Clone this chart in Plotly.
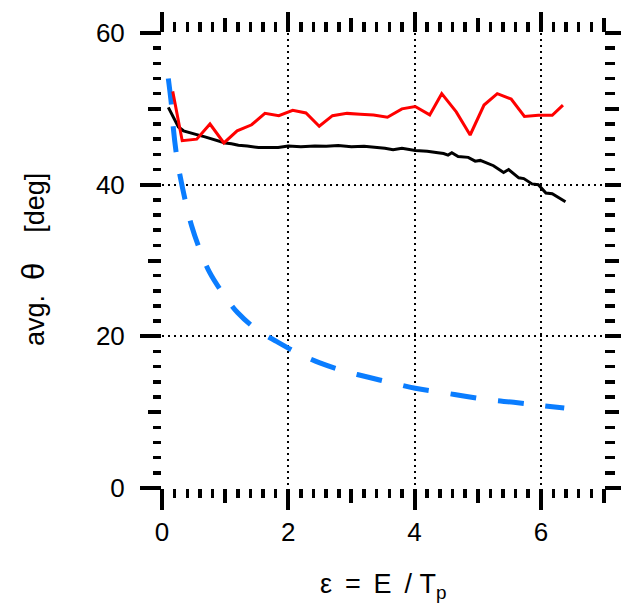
import plotly.graph_objects as go

# ---- data ----
red_x = [0.17, 0.32, 0.55, 0.76, 0.98, 1.19, 1.42, 1.63, 1.85, 2.07, 2.28, 2.49, 2.70, 2.93, 3.14,
         3.35, 3.57, 3.80, 4.01, 4.24, 4.43, 4.66, 4.88, 5.10, 5.31, 5.53, 5.74, 5.96, 6.18, 6.35]
red_y = [52.3, 45.8, 46.0, 48.0, 45.5, 47.1, 47.9, 49.4, 49.1, 49.8, 49.45, 47.7, 49.1, 49.4, 49.3,
         49.2, 48.9, 50.0, 50.3, 49.2, 52.0, 49.6, 46.55, 50.5, 52.0, 51.3, 49.0, 49.15, 49.15, 50.5]

black_x = [0.10, 0.18, 0.26, 0.34, 0.45, 0.55, 0.68, 0.80, 0.90, 1.00, 1.10, 1.21, 1.35, 1.53, 1.70,
           1.84, 2.00, 2.20, 2.42, 2.60, 2.79, 3.00, 3.20, 3.40, 3.53, 3.66, 3.80, 4.01, 4.20, 4.37,
           4.46, 4.53, 4.59, 4.69, 4.85, 4.96, 5.04, 5.25, 5.41, 5.49, 5.65, 5.73, 5.86, 5.96, 6.08,
           6.18, 6.39]
black_y = [50.2, 49.0, 47.6, 47.1, 46.8, 46.6, 46.3, 46.0, 45.8, 45.5, 45.4, 45.2, 45.1, 44.9, 44.9,
           44.9, 45.1, 45.0, 45.1, 45.05, 45.15, 45.0, 45.05, 44.9, 44.8, 44.6, 44.8, 44.5, 44.4, 44.2,
           44.1, 43.9, 44.2, 43.7, 43.6, 43.1, 43.2, 42.5, 41.6, 42.0, 40.9, 40.8, 40.1, 40.0, 38.9,
           38.8, 37.75]

blue_x = [0.10, 0.15, 0.18, 0.23, 0.29, 0.38, 0.47, 0.60, 0.75, 0.97, 1.20, 1.50, 1.82, 2.16, 2.50,
          2.90, 3.27, 3.67, 4.01, 4.43, 4.80, 5.20, 5.57, 5.99, 6.37]
blue_y = [54.0, 50.5, 47.4, 43.9, 41.0, 37.5, 34.55, 31.4, 28.5, 25.6, 23.1, 20.9, 19.3, 17.75, 16.5,
          15.4, 14.6, 13.8, 13.15, 12.6, 12.1, 11.6, 11.3, 10.9, 10.55]

x_major = [0, 2, 4, 6]
x_mid = [1, 3, 5, 7]
y_major = [0, 20, 40, 60]
y_mid = [10, 30, 50]
x_labels = ["0", "2", "4", "6"]
y_labels = ["0", "20", "40", "60"]
x_title = "ε\u00a0\u2009=\u00a0\u2009E\u00a0\u2009/\u00a0T<sub>p</sub>"
y_title = "avg.\u00a0 <span style='font-size:31px'>θ</span>\u00a0\u00a0 \u00a0[deg]"

XR = [0, 7]
YR = [0, 60]
FONT = "Liberation Sans, Arial, Helvetica, sans-serif"

W, H = 637, 603
ML, MR, MT, MB = 162, 33, 33, 115
PW, PH = W - ML - MR, H - MT - MB

fig = go.Figure()
fig.add_trace(go.Scatter(x=blue_x, y=blue_y, mode="lines",
                         line=dict(color="#0a7dff", width=5, dash="26px,22px", shape="spline"),
                         hoverinfo="skip"))
fig.add_trace(go.Scatter(x=black_x, y=black_y, mode="lines",
                         line=dict(color="black", width=3), hoverinfo="skip"))
fig.add_trace(go.Scatter(x=red_x, y=red_y, mode="lines",
                         line=dict(color="#ff0000", width=3), hoverinfo="skip"))
# invisible anchors for overlay axes
for xa, ya in [("x2", "y2"), ("x3", "y3"), ("x4", "y4")]:
    fig.add_trace(go.Scatter(x=[None], y=[None], xaxis=xa, yaxis=ya, showlegend=False,
                             hoverinfo="skip"))

grid = dict(showgrid=True, gridcolor="black", gridwidth=2, griddash="2px,4px")
common = dict(showline=False, zeroline=False, ticks="outside", tickcolor="black", tickwidth=4,
              fixedrange=True, automargin=False)


def minor(dt, ln):
    return dict(dtick=dt, tick0=0, ticklen=ln, tickwidth=3.5, tickcolor="black",
                ticks="outside", showgrid=False)


def py(window_y):
    return (H - MB - window_y) / PH


def px(window_x):
    return (window_x - ML) / PW


fig.update_layout(
    width=W, height=H,
    margin=dict(l=ML, r=MR, t=MT, b=MB, autoexpand=False),
    paper_bgcolor="white", plot_bgcolor="white",
    showlegend=False,
    font=dict(family=FONT, color="black", size=26),
    xaxis=dict(range=XR, tickmode="array", tickvals=x_major, ticktext=x_labels, ticklen=21,
               tickfont=dict(size=26), minor=minor(0.2, 9), **grid, **common),
    xaxis2=dict(range=XR, overlaying="x", anchor="y", side="bottom", tickmode="array",
                tickvals=x_mid, showticklabels=False, ticklen=14, showgrid=False, **common),
    xaxis3=dict(range=XR, overlaying="x", anchor="y", side="top", tickmode="array",
                tickvals=x_major, showticklabels=False, ticklen=20, showgrid=False,
                minor=minor(0.2, 10), **common),
    xaxis4=dict(range=XR, overlaying="x", anchor="y", side="top", tickmode="array",
                tickvals=x_mid, showticklabels=False, ticklen=14, showgrid=False, **common),
    yaxis=dict(range=YR, tickmode="array", tickvals=y_major, ticktext=y_labels, ticklen=21,
               tickfont=dict(size=26), ticklabelstandoff=10, minor=minor(2, 8),
               **grid, **common),
    yaxis2=dict(range=YR, overlaying="y", anchor="x", side="left", tickmode="array",
                tickvals=y_mid, showticklabels=False, ticklen=13, showgrid=False, **common),
    yaxis3=dict(range=YR, overlaying="y", anchor="x", side="right", tickmode="array",
                tickvals=y_major, showticklabels=False, ticklen=16, showgrid=False,
                minor=minor(2, 10), **common),
    yaxis4=dict(range=YR, overlaying="y", anchor="x", side="right", tickmode="array",
                tickvals=y_mid, showticklabels=False, ticklen=14, showgrid=False, **common),
    annotations=[
        dict(text=x_title, xref="paper", yref="paper", x=0.5, y=py(586),
             xanchor="center", yanchor="middle", showarrow=False, font=dict(size=27)),
        dict(text=y_title, xref="paper", yref="paper", x=px(33), y=py(260),
             xanchor="center", yanchor="middle", textangle=-90, showarrow=False,
             font=dict(size=27)),
    ],
)

fig.write_html("out.html",
               config={"displayModeBar": False, "staticPlot": True},
               post_script="document.body.style.margin='0';document.body.style.overflow='hidden';")
